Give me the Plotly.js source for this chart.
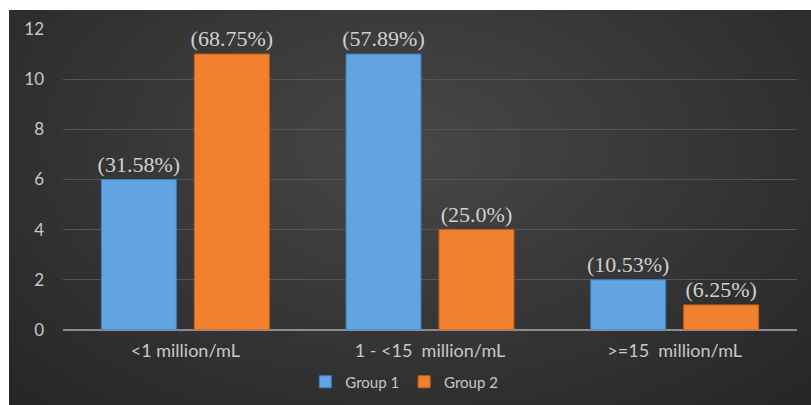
<!DOCTYPE html>
<html>
<head>
<meta charset="utf-8">
<script src="https://cdn.plot.ly/plotly-3.0.1.min.js"></script>
<style>
  html, body { margin: 0; padding: 0; background: #ffffff; width: 811px; height: 405px; overflow: hidden; }
  #chart {
    position: absolute; left: 9px; top: 10px; width: 802px; height: 395px;
    background: radial-gradient(ellipse 70% 90% at 50% 35%, #474747 0%, #383838 45%, #262626 100%);
  }
</style>
</head>
<body>
<div id="chart"></div>
<script>
const categories = ['<1 million/mL', '1 - <15  million/mL', '>=15  million/mL'];
const group1Values = [6, 11, 2];
const group2Values = [11, 4, 1];
const group1Labels = ['(31.58%)', '(57.89%)', '(10.53%)'];
const group2Labels = ['(68.75%)', '(25.0%)', '(6.25%)'];
const yTicks = [0, 2, 4, 6, 8, 10, 12];

const labelFont = { family: 'Liberation Serif, Times New Roman, serif', size: 22, color: '#d0d0d0' };
const sans = 'Lato, Open Sans, Liberation Sans, sans-serif';

const traces = [
  {
    type: 'bar', name: 'Group 1', x: categories, y: group1Values,
    text: group1Labels, textposition: 'outside', constraintext: 'none', cliponaxis: false,
    textfont: labelFont,
    marker: { color: '#62a4e2', line: { color: '#3f7fc0', width: 1 } },
    hoverinfo: 'skip'
  },
  {
    type: 'bar', name: 'Group 2', x: categories, y: group2Values,
    text: group2Labels, textposition: 'outside', constraintext: 'none', cliponaxis: false,
    textfont: labelFont,
    marker: { color: '#f2812f', line: { color: '#c9621a', width: 1 } },
    hoverinfo: 'skip'
  }
];

const layout = {
  width: 802, height: 395,
  paper_bgcolor: 'rgba(0,0,0,0)',
  plot_bgcolor: 'rgba(0,0,0,0)',
  margin: { l: 54, r: 14, t: 19, b: 75, autoexpand: false },
  barmode: 'group',
  bargap: 0.24,
  bargroupgap: 0.194,
  showlegend: true,
  legend: {
    orientation: 'h', x: 0.465, xanchor: 'center',
    yref: 'container', y: 0.1, yanchor: 'top',
    font: { family: sans, size: 15, color: '#c8c8c8' },
    bgcolor: 'rgba(0,0,0,0)', traceorder: 'normal', itemwidth: 30
  },
  xaxis: {
    type: 'category', automargin: false,
    tickfont: { family: sans, size: 18, color: '#c8c8c8' },
    showgrid: false, showline: false, ticks: '', zeroline: false, ticklabelstandoff: 8
  },
  yaxis: {
    range: [0, 12], tickvals: yTicks, ticktext: yTicks.map(String), automargin: false,
    tickfont: { family: sans, size: 17, color: '#c8c8c8' },
    showgrid: true, gridcolor: '#555555', gridwidth: 1,
    zeroline: true, zerolinecolor: '#8c8c8c', zerolinewidth: 2,
    showline: false, ticks: '', ticklabelstandoff: 18
  }
};

Plotly.newPlot('chart', traces, layout, { displayModeBar: false, staticPlot: true });
</script>
</body>
</html>
